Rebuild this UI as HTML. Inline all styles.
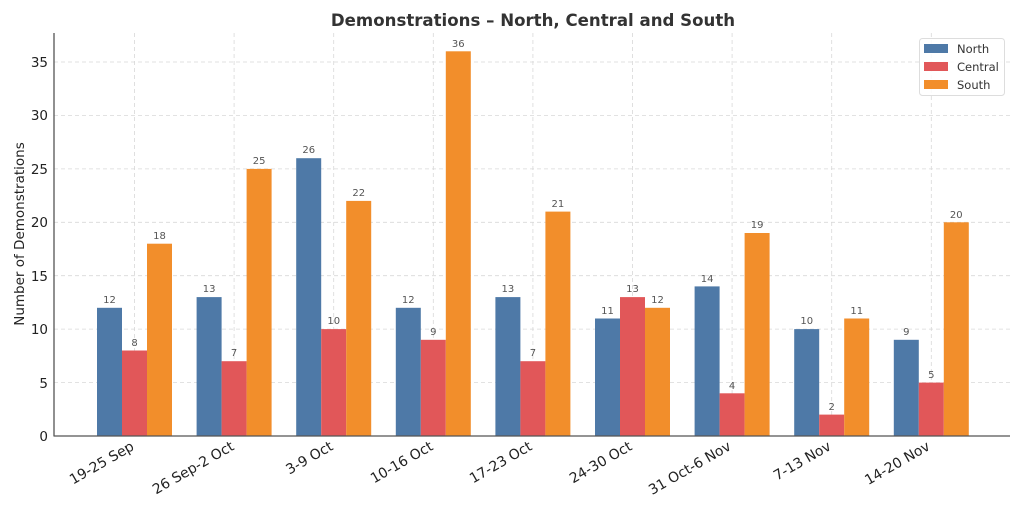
<!DOCTYPE html><html><head><meta charset="utf-8"><style>body{margin:0;background:#fff}svg{display:block;font-family:"DejaVu Sans","Liberation Sans",sans-serif}</style></head><body>
<svg width="1024" height="512" viewBox="0 0 1024 512">
<text x="533" y="26" text-anchor="middle" font-size="16.6" font-weight="bold" fill="#333">Demonstrations – North, Central and South</text>
<g stroke="#d8d8d8" stroke-dasharray="4,3" stroke-width="0.8">
<line x1="54" x2="1010" y1="382.6" y2="382.6"/><line x1="54" x2="1010" y1="329.1" y2="329.1"/><line x1="54" x2="1010" y1="275.7" y2="275.7"/><line x1="54" x2="1010" y1="222.3" y2="222.3"/><line x1="54" x2="1010" y1="168.9" y2="168.9"/><line x1="54" x2="1010" y1="115.4" y2="115.4"/><line x1="54" x2="1010" y1="62" y2="62"/>
<line x1="134.5" x2="134.5" y1="33" y2="436"/><line x1="234.1" x2="234.1" y1="33" y2="436"/><line x1="333.7" x2="333.7" y1="33" y2="436"/><line x1="433.3" x2="433.3" y1="33" y2="436"/><line x1="532.9" x2="532.9" y1="33" y2="436"/><line x1="632.5" x2="632.5" y1="33" y2="436"/><line x1="732.1" x2="732.1" y1="33" y2="436"/><line x1="831.7" x2="831.7" y1="33" y2="436"/><line x1="931.3" x2="931.3" y1="33" y2="436"/>
</g>
<g fill="#4e79a7">
<rect x="97" y="307.8" width="25" height="128.2"/><rect x="196.6" y="297.1" width="25" height="138.9"/><rect x="296.2" y="158.2" width="25" height="277.8"/><rect x="395.8" y="307.8" width="25" height="128.2"/><rect x="495.4" y="297.1" width="25" height="138.9"/><rect x="595" y="318.5" width="25" height="117.5"/><rect x="694.6" y="286.4" width="25" height="149.6"/><rect x="794.2" y="329.1" width="25" height="106.9"/><rect x="893.8" y="339.8" width="25" height="96.2"/>
</g>
<g fill="#e15759">
<rect x="122" y="350.5" width="25" height="85.5"/><rect x="221.6" y="361.2" width="25" height="74.8"/><rect x="321.2" y="329.1" width="25" height="106.9"/><rect x="420.8" y="339.8" width="25" height="96.2"/><rect x="520.4" y="361.2" width="25" height="74.8"/><rect x="620" y="297.1" width="25" height="138.9"/><rect x="719.6" y="393.3" width="25" height="42.7"/><rect x="819.2" y="414.6" width="25" height="21.4"/><rect x="918.8" y="382.6" width="25" height="53.4"/>
</g>
<g fill="#f28e2b">
<rect x="147" y="243.7" width="25" height="192.3"/><rect x="246.6" y="168.9" width="25" height="267.1"/><rect x="346.2" y="200.9" width="25" height="235.1"/><rect x="445.8" y="51.3" width="25" height="384.7"/><rect x="545.4" y="211.6" width="25" height="224.4"/><rect x="645" y="307.8" width="25" height="128.2"/><rect x="744.6" y="233" width="25" height="203"/><rect x="844.2" y="318.5" width="25" height="117.5"/><rect x="943.8" y="222.3" width="25" height="213.7"/>
</g>
<g font-size="10" fill="#555" text-anchor="middle">
<text x="109.5" y="303">12</text><text x="134.5" y="346">8</text><text x="159.5" y="239">18</text>
<text x="209.1" y="292">13</text><text x="234.1" y="356">7</text><text x="259.1" y="164">25</text>
<text x="308.7" y="153">26</text><text x="333.7" y="324">10</text><text x="358.7" y="196">22</text>
<text x="408.3" y="303">12</text><text x="433.3" y="335">9</text><text x="458.3" y="47">36</text>
<text x="507.9" y="292">13</text><text x="532.9" y="356">7</text><text x="557.9" y="207">21</text>
<text x="607.5" y="314">11</text><text x="632.5" y="292">13</text><text x="657.5" y="303">12</text>
<text x="707.1" y="282">14</text><text x="732.1" y="389">4</text><text x="757.1" y="228">19</text>
<text x="806.7" y="324">10</text><text x="831.7" y="410">2</text><text x="856.7" y="314">11</text>
<text x="906.3" y="335">9</text><text x="931.3" y="378">5</text><text x="956.3" y="218">20</text>
</g>
<g stroke="#555" stroke-width="1.3"><line x1="54" y1="33" x2="54" y2="436.5"/><line x1="54" y1="436" x2="1010" y2="436"/></g>
<g font-size="13.5" fill="#222" text-anchor="end">
<text x="48" y="441">0</text><text x="48" y="388">5</text><text x="48" y="334">10</text><text x="48" y="281">15</text><text x="48" y="227">20</text><text x="48" y="174">25</text><text x="48" y="120">30</text><text x="48" y="67">35</text>
</g>
<text transform="translate(24,234) rotate(-90)" text-anchor="middle" font-size="13.5" fill="#222">Number of Demonstrations</text>
<g font-size="14" fill="#222" text-anchor="end">
<text transform="translate(135,449) rotate(-30)">19-25 Sep</text>
<text transform="translate(235,449) rotate(-30)">26 Sep-2 Oct</text>
<text transform="translate(334,449) rotate(-30)">3-9 Oct</text>
<text transform="translate(434,449) rotate(-30)">10-16 Oct</text>
<text transform="translate(533,449) rotate(-30)">17-23 Oct</text>
<text transform="translate(633,449) rotate(-30)">24-30 Oct</text>
<text transform="translate(732,449) rotate(-30)">31 Oct-6 Nov</text>
<text transform="translate(832,449) rotate(-30)">7-13 Nov</text>
<text transform="translate(931,449) rotate(-30)">14-20 Nov</text>
</g>
<rect x="919.5" y="38.5" width="85" height="57" rx="3" fill="#fff" fill-opacity="0.85" stroke="#ddd"/>
<rect x="924" y="44" width="24" height="9" fill="#4e79a7"/><rect x="924" y="62" width="24" height="9" fill="#e15759"/><rect x="924" y="80" width="24" height="9" fill="#f28e2b"/>
<g font-size="11.5" fill="#333"><text x="957" y="53">North</text><text x="957" y="71">Central</text><text x="957" y="89">South</text></g>
</svg></body></html>
